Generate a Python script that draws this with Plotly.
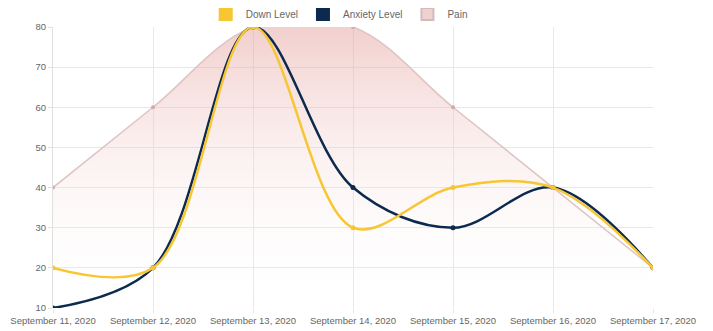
import plotly.graph_objects as go

dates = ["September 11, 2020", "September 12, 2020", "September 13, 2020",
         "September 14, 2020", "September 15, 2020", "September 16, 2020",
         "September 17, 2020"]
down_level = [20, 20, 80, 30, 40, 40, 20]
anxiety_level = [10, 20, 80, 40, 30, 40, 20]
pain = [40, 60, 80, 80, 60, 40, 20]

DOWN_C = "#f6c633"
ANX_C = "#0c2a4e"
PAIN_C = "rgba(222,196,196,1)"

fig = go.Figure()

fig.add_trace(go.Scatter(
    x=dates, y=pain, name="Pain", mode="lines+markers", showlegend=False,
    line=dict(color=PAIN_C, width=1.5, shape="spline", smoothing=1),
    marker=dict(color="rgba(210,170,170,1)", size=4),
    fill="tozeroy",
    fillgradient=dict(type="vertical", start=10, stop=80,
                      colorscale=[[0, "rgba(255,255,255,0)"],
                                  [1, "rgba(228,160,155,0.5)"]]),
))
fig.add_trace(go.Scatter(
    x=dates, y=anxiety_level, name="Anxiety Level", mode="lines+markers", showlegend=False,
    line=dict(color=ANX_C, width=2.5, shape="spline", smoothing=1),
    marker=dict(color=ANX_C, size=5),
))
fig.add_trace(go.Scatter(
    x=dates, y=down_level, name="Down Level", mode="lines+markers", showlegend=False,
    line=dict(color=DOWN_C, width=2.5, shape="spline", smoothing=1),
    marker=dict(color=DOWN_C, size=5),
))

# legend entries with square swatches
for name, col, lcol in [("Down Level", DOWN_C, DOWN_C),
                        ("Anxiety Level", ANX_C, ANX_C),
                        ("Pain", "rgba(238,210,210,1)", "rgba(215,185,185,1)")]:
    fig.add_trace(go.Scatter(
        x=[None], y=[None], name=name, mode="markers",
        marker=dict(symbol="square", size=11, color=col, line=dict(color=lcol, width=1)),
    ))

fig.update_layout(
    width=713, height=331,
    margin=dict(l=45, r=68, t=19, b=31, autoexpand=False),
    paper_bgcolor="white", plot_bgcolor="white",
    font=dict(family="Liberation Sans, Arial", size=9.5, color="#666"),
    showlegend=True,
    legend=dict(orientation="h", x=0.477, xanchor="center",
                y=1.046, yanchor="middle",
                font=dict(size=10, color="#666"),
                itemsizing="constant", bgcolor="rgba(0,0,0,0)", itemwidth=30),
    xaxis=dict(type="category", range=[0, 6], showgrid=True, gridcolor="#e8e8e8",
               showline=False, zeroline=False, ticks="outside", ticklen=4,
               tickcolor="#e8e8e8", tickfont=dict(size=9.5, color="#666"), automargin=False),
    yaxis=dict(range=[10, 80], dtick=10, showgrid=True, gridcolor="#e8e8e8",
               showline=True, linecolor="#e0e0e0", zeroline=False,
               ticks="outside", ticklen=4, tickcolor="#e0e0e0",
               tickfont=dict(size=9.5, color="#666"), automargin=False),
)

fig.write_html("out.html")
